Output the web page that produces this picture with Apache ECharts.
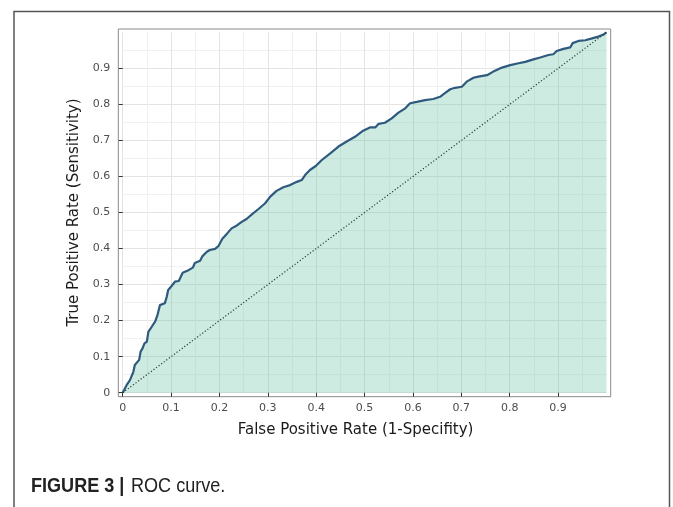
<!DOCTYPE html>
<html>
<head>
<meta charset="utf-8">
<script src="https://cdn.jsdelivr.net/npm/echarts@6/dist/echarts.min.js"></script>
<style>
html,body{margin:0;padding:0;background:#fff;}
#chart{width:673px;height:507px;}
</style>
</head>
<body>
<div id="chart"></div>
<script>
// ROC curve points: [false positive rate, true positive rate]
var fpr = [0,0.008,0.015,0.022,0.025,0.034,0.037,0.041,0.045,0.050,0.053,0.060,0.067,0.072,0.077,0.081,0.087,0.091,0.094,0.101,0.108,0.116,0.124,0.136,0.145,0.149,0.160,0.165,0.174,0.180,0.191,0.198,0.206,0.216,0.225,0.236,0.246,0.256,0.267,0.280,0.294,0.305,0.318,0.332,0.346,0.360,0.370,0.377,0.387,0.399,0.411,0.429,0.446,0.463,0.480,0.497,0.511,0.522,0.529,0.542,0.556,0.570,0.584,0.594,0.608,0.625,0.642,0.656,0.666,0.677,0.687,0.701,0.711,0.725,0.735,0.753,0.766,0.784,0.801,0.818,0.832,0.849,0.863,0.880,0.890,0.897,0.911,0.925,0.930,0.942,0.956,0.970,0.983,0.994,1];
var tpr = [0,0.021,0.035,0.058,0.077,0.091,0.114,0.123,0.137,0.142,0.169,0.183,0.197,0.216,0.243,0.248,0.248,0.266,0.285,0.296,0.308,0.310,0.333,0.340,0.347,0.360,0.366,0.379,0.391,0.396,0.399,0.407,0.427,0.442,0.456,0.464,0.474,0.482,0.495,0.509,0.525,0.544,0.560,0.570,0.576,0.585,0.590,0.604,0.618,0.629,0.645,0.664,0.683,0.697,0.710,0.727,0.736,0.736,0.746,0.749,0.761,0.777,0.789,0.803,0.807,0.812,0.815,0.821,0.831,0.842,0.846,0.849,0.863,0.874,0.877,0.881,0.891,0.902,0.909,0.914,0.918,0.925,0.930,0.937,0.939,0.948,0.954,0.958,0.970,0.976,0.978,0.983,0.988,0.994,1];
// Chance (diagonal) line
var chanceX = [0, 1];
var chanceY = [0, 1];
// Tick labels
var tickValues = [0,0.1,0.2,0.3,0.4,0.5,0.6,0.7,0.8,0.9];
var xTitle = 'False Positive Rate (1-Specifity)';
var yTitle = 'True Positive Rate (Sensitivity)';
var captionBold = 'FIGURE 3 |';
var captionText = 'ROC curve.';

var rocData = fpr.map(function (x, i) { return [x, tpr[i]]; });
var chanceData = chanceX.map(function (x, i) { return [x, chanceY[i]]; });

var font = 'DejaVu Sans';
var capFont = 'Liberation Sans Narrow, Liberation Sans, Arial, sans-serif';
var chart = echarts.init(document.getElementById('chart'), null, {renderer: 'canvas'});
var option = {
  animation: false,
  backgroundColor: '#ffffff',
  grid: [
    {left: 118.3, top: 29, width: 492.4, height: 367.7, show: true,
     backgroundColor: '#ffffff', borderColor: '#8a8a8a', borderWidth: 1},
    {left: 122.7, top: 32.3, width: 483.8, height: 360.4, show: false}
  ],
  xAxis: [
    {gridIndex: 0, type: 'value', min: 0, max: 1, show: false},
    {gridIndex: 1, type: 'value', min: 0, max: 1, interval: 0.1, offset: 4.4,
     axisLine: {show: false},
     axisTick: {show: true, length: 4, customValues: tickValues, lineStyle: {color: '#333333', width: 1}},
     axisLabel: {customValues: tickValues, color: '#4d4d4d', fontSize: 11, fontFamily: font, margin: 6,
       formatter: function (v) { return String(+v.toFixed(1)); }},
     splitLine: {show: true, lineStyle: {color: '#e3e3e3', width: 1}},
     minorTick: {show: false, splitNumber: 2},
     minorSplitLine: {show: true, lineStyle: {color: '#f1f1f1', width: 1}},
     name: xTitle, nameLocation: 'middle', nameGap: 26,
     nameTextStyle: {fontFamily: font, fontSize: 15, color: '#1a1a1a', padding: [0, 18, 0, 0]}}
  ],
  yAxis: [
    {gridIndex: 0, type: 'value', min: 0, max: 1, show: false},
    {gridIndex: 1, type: 'value', min: 0, max: 1, interval: 0.1, offset: 4.4,
     axisLine: {show: false},
     axisTick: {show: true, length: 4, customValues: tickValues, lineStyle: {color: '#333333', width: 1}},
     axisLabel: {customValues: tickValues, color: '#4d4d4d', fontSize: 11, fontFamily: font, margin: 8,
       formatter: function (v) { return String(+v.toFixed(1)); }},
     splitLine: {show: true, lineStyle: {color: '#e3e3e3', width: 1}},
     minorTick: {show: false, splitNumber: 2},
     minorSplitLine: {show: true, lineStyle: {color: '#f1f1f1', width: 1}},
     name: yTitle, nameLocation: 'middle', nameGap: 35, nameRotate: 90,
     nameTextStyle: {fontFamily: font, fontSize: 15, color: '#1a1a1a'}}
  ],
  series: [
    {type: 'line', xAxisIndex: 1, yAxisIndex: 1, data: rocData, showSymbol: false, clip: false,
     lineStyle: {color: '#2f5a7e', width: 2.2},
     areaStyle: {color: '#66c2a5', opacity: 0.33}, z: 3},
    {type: 'line', xAxisIndex: 1, yAxisIndex: 1, data: chanceData, showSymbol: false, clip: false,
     lineStyle: {color: '#2b3b3b', width: 1.2, type: [1.2, 2]}, z: 4}
  ],
  graphic: [
    {type: 'polyline', silent: true, z: 10,
     shape: {points: [[14, 530], [14, 11.5], [669.5, 11.5], [669.5, 530]]},
     style: {stroke: '#555555', lineWidth: 1.5, fill: null}},
    {type: 'text', x: 31, y: 476, z: 10, scaleX: 0.86,
     style: {text: captionBold, fontFamily: capFont, fontWeight: 'bold', fontSize: 21, fill: '#222222'}},
    {type: 'text', x: 131, y: 476, z: 10, scaleX: 0.86,
     style: {text: captionText, fontFamily: capFont, fontSize: 21, fill: '#222222'}}
  ]
};
chart.setOption(option);
</script>
</body>
</html>
